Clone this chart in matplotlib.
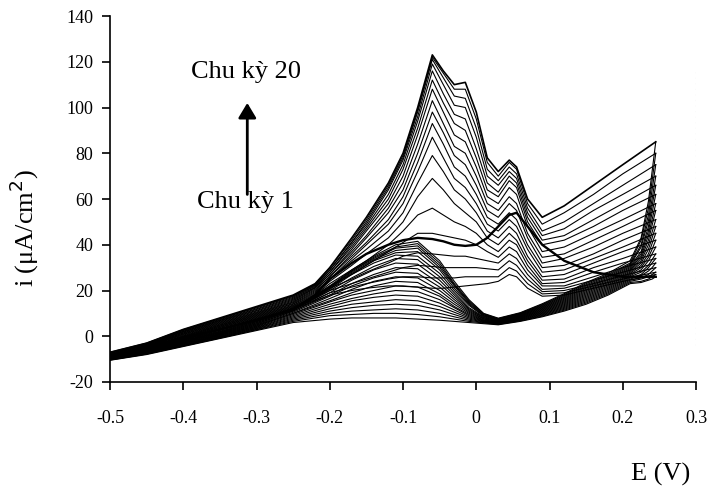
import matplotlib
matplotlib.use("Agg")
import matplotlib.pyplot as plt

plt.rcParams['font.family'] = ['Liberation Serif', 'DejaVu Serif']
plt.rcParams['axes.unicode_minus'] = False

# Potential grids (V)
E_forward = [-0.50, -0.45, -0.40, -0.35, -0.30, -0.25, -0.22, -0.20, -0.17, -0.15,
             -0.12, -0.10, -0.08, -0.06, -0.045, -0.03, -0.015, 0.00, 0.015, 0.03,
             0.045, 0.055, 0.07, 0.09, 0.12, 0.16, 0.20, 0.245]
E_reverse = [0.245, 0.24, 0.235, 0.225, 0.21, 0.18, 0.15, 0.12, 0.09, 0.06, 0.03,
             0.01, -0.01, -0.03, -0.05, -0.08, -0.11, -0.14, -0.17, -0.20, -0.25,
             -0.30, -0.35, -0.40, -0.45, -0.50]

# Forward (anodic) scan currents, cycles 1..20 (uA/cm2)
i_forward = [
    [-9.5, -5.5, -1, 3, 7, 11.5, 18, 25, 32, 36, 40, 42, 43, 42.5, 41.5, 40, 39.5, 40, 43, 48, 53, 54, 48, 40, 33, 28, 26, 26],
    [-9.5, -5.5, -1, 3.2, 7.3, 11.8, 15.5, 18, 20, 21, 22, 22, 21.5, 21, 21, 21.5, 22, 22.5, 23, 24, 27, 26, 21, 17.5, 18, 21, 24, 27],
    [-9.5, -5.5, -0.8, 3.5, 7.6, 12.1, 16, 19, 21.5, 23, 25, 26, 26, 25.5, 25.5, 25.5, 26, 26, 26, 26, 30, 28.5, 23, 18.5, 19, 22, 25, 28],
    [-9.5, -5.3, -0.6, 3.8, 7.9, 12.4, 16.5, 20, 23, 25, 28, 30, 31, 30.5, 30, 30, 30, 30, 29.5, 29, 33, 31, 25, 19.5, 20, 23, 26.5, 30],
    [-9, -5.2, -0.4, 4, 8.2, 12.7, 17, 21, 25, 28, 32, 35, 36.5, 36, 35.5, 35, 35, 34, 33, 32, 36, 34, 27, 20.5, 21, 24.5, 28, 32],
    [-9, -5, -0.2, 4.3, 8.5, 13, 17.5, 22, 27, 31, 37, 41, 45, 45, 44, 43, 42, 40, 37, 34.5, 39, 37, 29, 22, 22, 26, 30, 34],
    [-9, -5, 0, 4.5, 8.8, 13.3, 18, 23, 29, 33, 40, 46, 53, 56, 53, 50, 48, 45, 40, 37, 42, 40, 31, 23, 23.5, 28, 32, 36],
    [-9, -4.8, 0.2, 4.8, 9.1, 13.6, 18.5, 24, 31, 36, 43, 50, 61, 69, 64, 58, 54, 50, 43, 40, 45, 42, 33, 24.5, 25, 30, 34, 39],
    [-8.5, -4.6, 0.5, 5, 9.4, 14, 19, 25, 33, 38, 46, 54, 67, 79, 72, 64, 60, 54, 46, 43, 48, 45, 35, 26, 27, 32, 37, 42],
    [-8.5, -4.5, 0.8, 5.3, 9.7, 14.3, 19.5, 25, 34, 40, 49, 58, 72, 87, 78, 69, 65, 58, 49, 46, 51, 48, 38, 28, 29, 34, 39, 45],
    [-8.5, -4.3, 1, 5.6, 10, 14.7, 20, 26, 35, 41, 51, 61, 76, 93, 84, 74, 70, 62, 52, 49, 54, 51, 40, 30, 31, 36, 42, 48],
    [-8.5, -4.2, 1.3, 5.9, 10.3, 15, 20.5, 26, 36, 43, 54, 64, 80, 98, 89, 79, 75, 66, 55, 52, 58, 55, 43, 32, 34, 39, 45, 51],
    [-8, -4, 1.5, 6.2, 10.6, 15.4, 21, 27, 37, 44, 56, 67, 84, 103, 93, 83, 80, 70, 58, 55, 61, 58, 45, 34.5, 36, 42, 48, 55],
    [-8, -3.8, 1.8, 6.5, 11, 15.8, 21.3, 27, 38, 46, 58, 70, 88, 108, 98, 88, 85, 74, 61, 58, 65, 62, 48, 37, 39, 45, 51, 58],
    [-8, -3.6, 2, 6.8, 11.3, 16.2, 21.6, 28, 39, 47, 60, 73, 91, 112, 102, 93, 90, 78, 64, 61, 68, 65, 50, 40, 42, 48, 55, 62],
    [-7.5, -3.5, 2.2, 7, 11.7, 16.6, 22, 28, 40, 48, 62, 75, 94, 116, 106, 97, 95, 82, 67, 63, 70, 67, 52, 42, 44, 51, 58, 66],
    [-7.5, -3.3, 2.5, 7.3, 12, 17, 22.3, 29, 41, 49, 64, 77, 96, 119, 110, 101, 100, 87, 70, 66, 72, 69, 54, 44, 47, 55, 62, 70],
    [-7.5, -3.2, 2.7, 7.6, 12.4, 17.4, 22.6, 29, 41, 50, 65, 78, 98, 121, 113, 105, 104, 91, 73, 68, 74, 71, 56, 46, 50, 58, 66, 75],
    [-7, -3, 2.9, 7.8, 12.7, 17.7, 22.8, 30, 42, 51, 66, 79, 99, 122, 115, 108, 108, 95, 76, 70, 76, 73, 58, 49, 54, 62, 71, 80],
    [-7, -3, 3, 8, 13, 18, 23, 30, 43, 52, 67, 80, 100, 123, 116, 110, 111, 98, 78, 72, 77, 74, 60, 52, 57, 66, 75, 85],
]

# Reverse (backward) scan currents, cycles 1..20 (uA/cm2)
i_reverse = [
    [26, 25, 24.5, 23.5, 23, 18, 14, 11, 8.5, 6.5, 5, 5.5, 6, 6.5, 7, 7.5, 8, 8, 8, 7.5, 6, 2.5, -1, -4.5, -8, -10.5],
    [27, 26, 25, 24, 23.5, 18.5, 14.5, 11.4, 8.8, 6.7, 5.2, 5.8, 6.5, 7.5, 8.5, 9.5, 10, 10, 9.5, 9, 6.5, 2.8, -0.8, -4.3, -7.8, -10.4],
    [28, 27, 26, 25, 24, 19, 15, 11.8, 9.1, 6.9, 5.3, 6, 7, 8.5, 10, 11.5, 12, 11.5, 11, 10, 7, 3, -0.6, -4.1, -7.7, -10.3],
    [30, 28.5, 27, 25.5, 24.5, 19.5, 15.5, 12.2, 9.4, 7.1, 5.5, 6.2, 7.5, 9.5, 11.5, 13.5, 14, 13.5, 12.5, 11, 7.5, 3.3, -0.4, -3.9, -7.5, -10.2],
    [32, 30, 28.5, 26.5, 25, 20, 16, 12.6, 9.7, 7.3, 5.6, 6.4, 8, 10.5, 13, 15.5, 16, 15, 14, 12, 8, 3.5, -0.2, -3.7, -7.4, -10],
    [34, 32, 30, 27, 25.5, 20.5, 16.5, 13, 10, 7.5, 5.8, 6.6, 8.5, 11.5, 14.5, 17.5, 18, 17, 15.5, 13, 8.5, 3.8, 0, -3.5, -7.2, -9.9],
    [36, 33.5, 31, 28, 26, 21, 17, 13.4, 10.3, 7.7, 5.9, 6.8, 9, 12.5, 16, 19.5, 20, 18.5, 16.5, 14, 9, 4, 0.2, -3.3, -7.1, -9.8],
    [39, 36, 33, 29, 26.5, 21.5, 17.5, 13.8, 10.6, 7.9, 6.1, 7, 9.5, 13, 17.5, 21.5, 22, 20, 18, 15, 9.5, 4.3, 0.4, -3.1, -6.9, -9.7],
    [42, 38, 34.5, 30, 27, 22, 18, 14.2, 10.9, 8.1, 6.2, 7.2, 10, 14, 18.5, 23.5, 24, 22, 19, 15.5, 10, 4.5, 0.6, -2.9, -6.8, -9.6],
    [45, 40.5, 36, 31, 27.5, 22.5, 18.5, 14.6, 11.2, 8.3, 6.4, 7.5, 10.5, 15, 20, 25.5, 26, 24, 20.5, 16.5, 10, 4.8, 0.8, -2.7, -6.6, -9.5],
    [48, 43, 38, 32, 28, 23, 19, 15, 11.5, 8.5, 6.5, 7.7, 11, 16, 21.5, 27.5, 28, 25.5, 22, 17.5, 10.5, 5, 1, -2.5, -6.5, -9.4],
    [51, 45.5, 40, 33, 28.5, 23.5, 19.5, 15.4, 11.8, 8.7, 6.7, 8, 11.5, 17, 23, 29.5, 30, 27, 23, 18, 11, 5.3, 1.2, -2.3, -6.3, -9.3],
    [55, 48.5, 42, 34, 29, 24, 20, 15.8, 12.1, 8.9, 6.8, 8.2, 12, 18, 24.5, 31.5, 32, 29, 24.5, 19, 11, 5.5, 1.4, -2.1, -6.2, -9.2],
    [58, 51, 44, 35, 29.5, 24.5, 20.5, 16.2, 12.4, 9.1, 7, 8.5, 12.5, 19, 26, 33.5, 34, 30.5, 25.5, 20, 11.5, 5.8, 1.6, -1.9, -6, -9.1],
    [62, 54, 46, 36, 30, 25, 21, 16.6, 12.7, 9.3, 7.1, 8.8, 13.5, 20, 27.5, 35, 35.5, 32, 27, 20.5, 11.5, 6, 1.8, -1.7, -5.9, -9],
    [66, 57, 48, 37, 30.5, 25.5, 21.5, 17, 13, 9.5, 7.3, 9, 14, 21, 29, 37, 36.5, 33, 27.5, 21, 12, 6.3, 2, -1.5, -5.7, -8.9],
    [70, 60, 50.5, 39, 31, 26, 22, 17.4, 13.3, 9.7, 7.4, 9.3, 14.5, 22, 30, 38.5, 37.5, 33.5, 28, 21, 12, 6.5, 2.2, -1.3, -5.6, -8.8],
    [75, 64, 53, 40, 31.5, 26.5, 22.5, 17.8, 13.6, 9.9, 7.6, 9.5, 15, 22.5, 31, 39.5, 38.5, 34, 28.5, 21.5, 12, 6.8, 2.5, -1.1, -5.4, -8.6],
    [80, 68, 56, 42, 32, 27, 23, 18.2, 13.9, 10.1, 7.7, 9.8, 15.5, 23, 32, 40.5, 39, 34.5, 28.5, 21.5, 12, 7.2, 2.8, -0.8, -5.2, -8.4],
    [85, 72, 59, 43, 33, 27.5, 23.5, 18.6, 14.2, 10.3, 7.9, 10, 16, 24, 33, 41.5, 40, 35, 29, 22, 12, 7.5, 3, -0.5, -5, -8.2],
]

x_ticks = [-0.5, -0.4, -0.3, -0.2, -0.1, 0.0, 0.1, 0.2, 0.3]
x_tick_labels = ["-0.5", "-0.4", "-0.3", "-0.2", "-0.1", "0", "0.1", "0.2", "0.3"]
y_ticks = [-20, 0, 20, 40, 60, 80, 100, 120, 140]
y_tick_labels = ["-20", "0", "20", "40", "60", "80", "100", "120", "140"]
label_first = "Chu kỳ 1"
label_last = "Chu kỳ 20"

fig = plt.figure(figsize=(7.07, 4.91), dpi=100)
ax = fig.add_axes([0.1556, 0.222, 0.8289, 0.7454])

for k, (f, r) in enumerate(zip(i_forward, i_reverse)):
    lw_f = 1.7 if k == 0 else (1.2 if k == len(i_forward) - 1 else 0.8)
    ax.plot(E_forward, f, color='black', lw=lw_f, solid_joinstyle='round')
    ax.plot(E_reverse, r, color='black', lw=0.8, solid_joinstyle='round')

ax.set_xlim(-0.5, 0.3)
ax.set_ylim(-20, 140)
ax.set_xticks(x_ticks)
ax.set_xticklabels(x_tick_labels)
ax.set_yticks(y_ticks)
ax.set_yticklabels(y_tick_labels)
ax.spines['top'].set_visible(False)
ax.spines['right'].set_visible(False)
ax.spines['left'].set_linewidth(1.2)
ax.spines['bottom'].set_linewidth(1.2)
ax.tick_params(axis='x', direction='out', length=6, width=1.2, pad=14, labelsize=13)
ax.tick_params(axis='y', direction='out', length=6, width=1.2, pad=6, labelsize=13)

# faint dotted line at right edge (scan artefact)
ax.axvline(0.3, ymin=0.1, ymax=0.85, color='#aaaaaa', lw=0.8, ls=(0, (1, 4)))

ax.set_ylabel("i (μA/cm$^2$)", fontsize=19)
ax.yaxis.set_label_coords(-0.118, 0.42)
fig.text(661 / 707, 1 - 474 / 491, "E (V)", fontsize=19, ha='center', va='center')

ax.text(-0.315, 115.5, label_last, fontsize=19, ha='center', va='center')
ax.text(-0.315, 58.5, label_first, fontsize=19, ha='center', va='center')
ax.annotate("", xy=(-0.3126, 102), xytext=(-0.3126, 62),
            arrowprops=dict(arrowstyle='-|>,head_length=0.45,head_width=0.27',
                            mutation_scale=20, color='black', lw=2,
                            shrinkA=0, shrinkB=0))

fig.savefig("out.png", dpi=100)
